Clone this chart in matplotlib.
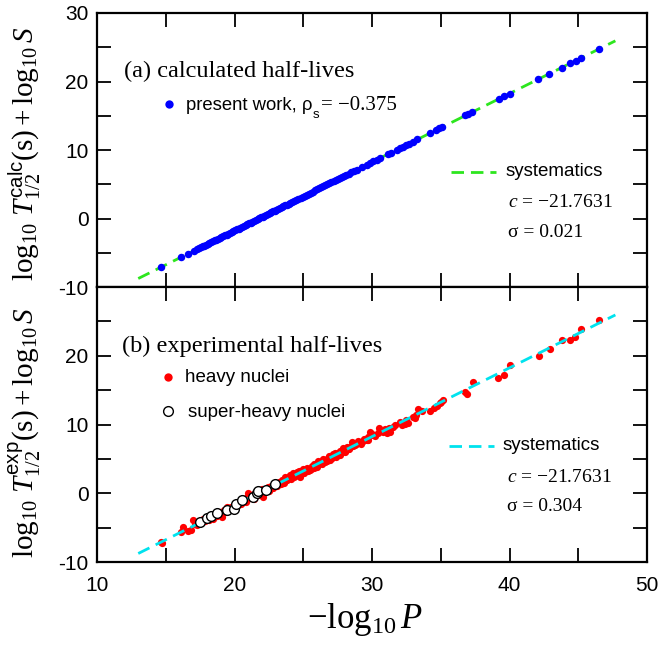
import matplotlib
matplotlib.use("Agg")
import matplotlib.pyplot as plt
import numpy as np

plt.rcParams['font.family'] = ['Liberation Sans', 'DejaVu Sans']
plt.rcParams['mathtext.fontset'] = 'custom'
plt.rcParams['mathtext.rm'] = 'Liberation Serif'
plt.rcParams['mathtext.it'] = 'Liberation Serif:italic'
plt.rcParams['mathtext.bf'] = 'Liberation Serif:bold'
plt.rcParams['mathtext.sf'] = 'Liberation Sans'
plt.rcParams['axes.unicode_minus'] = False
plt.rcParams['lines.scale_dashes'] = False

# ---------------- data ----------------
c_const = -21.7631
line_x = [13.0, 47.7]

calc_x = [14.65, 16.1, 16.6, 17.05, 17.3, 17.42, 17.55, 17.68, 17.8, 17.93, 18.05, 18.17, 18.3, 18.41,
          18.55, 18.66, 18.8, 18.92, 19.05, 19.17, 19.3, 19.42, 19.55, 19.67, 19.8, 19.91, 20.05, 20.17,
          20.3, 20.42, 20.55, 20.66, 20.8, 20.92, 21.05, 21.17, 21.3, 21.42, 21.55, 21.68, 21.8, 21.93,
          22.05, 22.17, 22.3, 22.42, 22.55, 22.68, 22.8, 22.92, 23.05, 23.18, 23.3, 23.43, 23.55, 23.68,
          23.8, 23.93, 24.05, 24.2, 24.35, 24.5, 24.65, 24.8, 24.95, 25.1, 25.25, 25.4, 25.55, 25.7, 25.85,
          26.0, 26.15, 26.3, 26.45, 26.6, 26.75, 26.9, 27.05, 27.2, 27.35, 27.5, 27.65, 27.8, 27.95, 28.1,
          28.3, 28.5, 28.7, 28.9, 29.25, 29.6, 29.85, 30.1, 30.35, 30.6, 31.15, 31.35, 31.8, 32.0, 32.25,
          32.5, 32.7, 33.0, 33.3, 34.2, 34.65, 34.9, 35.1, 36.8, 37.0, 37.3, 39.2, 39.6, 40.0, 42.1, 42.9,
          43.8, 44.4, 44.8, 45.2, 46.5]
calc_y = [-7.11, -5.66, -5.16, -4.71, -4.46, -4.34, -4.21, -4.08, -3.96, -3.83, -3.71, -3.59, -3.46, -3.35,
          -3.21, -3.10, -2.96, -2.84, -2.71, -2.59, -2.46, -2.34, -2.21, -2.09, -1.96, -1.85, -1.71, -1.59,
          -1.46, -1.34, -1.21, -1.10, -0.96, -0.84, -0.71, -0.59, -0.46, -0.34, -0.21, -0.08, 0.04, 0.17,
          0.29, 0.41, 0.54, 0.66, 0.79, 0.92, 1.04, 1.16, 1.29, 1.42, 1.54, 1.67, 1.79, 1.92,
          2.04, 2.17, 2.29, 2.44, 2.59, 2.74, 2.89, 3.04, 3.19, 3.34, 3.49, 3.64, 3.79, 3.94, 4.09,
          4.24, 4.39, 4.54, 4.69, 4.84, 4.99, 5.14, 5.29, 5.44, 5.59, 5.74, 5.89, 6.04, 6.19, 6.34,
          6.54, 6.74, 6.94, 7.14, 7.49, 7.84, 8.09, 8.34, 8.59, 8.84, 9.39, 9.59, 10.04, 10.24, 10.49,
          10.74, 10.94, 11.24, 11.54, 12.44, 12.89, 13.14, 13.34, 15.04, 15.24, 15.54, 17.44, 17.84, 18.24, 20.34, 21.14,
          22.04, 22.64, 23.04, 23.44, 24.74]

heavy_x = [14.63, 14.7, 16.1, 16.28, 16.65, 16.8, 17.0, 17.1, 17.25, 17.4, 17.55, 17.7, 17.85, 18.0, 18.15,
           18.3, 18.46, 18.6, 18.75, 18.9, 19.07, 19.2, 19.35, 19.43, 19.6, 19.75, 19.9, 20.05, 20.2, 20.35,
           20.5, 20.65, 20.8, 21.0, 21.1, 21.25, 21.4, 21.55, 21.7, 21.85, 22.1, 22.2, 22.34, 22.5, 22.65,
           22.8, 22.95, 23.1, 23.31, 23.45, 23.6, 23.67, 23.85, 24.0, 24.1, 24.28, 24.4, 24.55, 24.76, 24.9,
           25.05, 25.2, 25.35, 25.49, 25.6, 25.75, 25.97, 26.1, 26.22, 26.35, 26.46, 26.6, 26.82, 26.95,
           27.07, 27.19, 27.35, 27.5, 27.65, 27.8, 27.91, 28.05, 28.25, 28.4, 28.52, 28.76, 28.95, 29.13,
           29.35, 29.61, 29.73, 29.85, 30.1, 30.46, 30.53, 30.8, 31.07, 31.31, 31.5, 32.04, 32.2, 32.4,
           32.64, 33.0, 33.2, 33.32, 34.22, 34.71, 34.95, 35.14, 36.76, 36.89, 37.32, 39.19, 39.62, 40.04,
           42.17, 42.95, 43.82, 44.4, 44.76, 45.22, 46.51,
           20.9, 21.2, 21.45, 21.9, 22.0, 22.4, 22.6, 22.9, 23.2, 23.4, 23.75, 23.95, 24.2, 24.35, 24.6,
           24.7, 25.0, 25.3, 25.55, 25.8, 25.9, 26.05, 26.3, 26.55, 26.7, 26.9, 27.1, 27.3, 27.55, 27.7,
           28.0, 28.15, 28.35, 28.6, 28.85, 29.0, 29.2, 29.45, 29.7, 30.0, 30.25, 30.65, 30.95, 31.2,
           31.7, 32.5, 33.1, 33.6, 34.5, 35.0]
heavy_y = [-7.1, -7.25, -5.7, -4.9, -5.45, -5.3, -3.9, -4.5, -4.6, -4.1, -4.35, -3.8, -4.05, -3.5, -3.95,
           -3.3, -3.8, -3.0, -3.35, -2.7, -3.4, -2.5, -2.75, -1.95, -2.3, -2.0, -2.45, -1.5, -1.9, -1.2,
           -1.55, -0.9, -1.25, 0.0, -0.7, -0.35, -0.8, 0.1, -0.3, 0.3, -0.5, 0.55, 0.72, 0.35, 1.1,
           0.8, 1.5, 1.0, 1.45, 1.9, 1.55, 2.41, 2.0, 2.6, 2.1, 2.9, 2.45, 3.1, 2.41, 3.3,
           2.9, 3.6, 3.2, 3.38, 4.0, 3.7, 3.86, 4.4, 4.59, 4.2, 4.94, 4.6, 5.08, 4.8,
           5.32, 5.71, 5.3, 5.9, 5.6, 6.04, 6.54, 6.2, 6.5, 6.77, 7.5, 7.02, 7.3, 7.5,
           7.6, 7.75, 8.23, 8.95, 8.5, 8.81, 9.53, 8.9, 8.81, 8.95, 9.6, 10.32, 10.0, 10.07,
           10.26, 11.14, 11.38, 12.21, 11.96, 12.69, 13.08, 13.56, 14.77, 14.44, 16.14, 16.72, 17.2, 18.65,
           20.0, 20.98, 22.29, 22.29, 22.77, 23.89, 25.2,
           -0.6, -0.2, -0.15, 0.0, 0.6, 0.9, 0.6, 1.25, 1.7, 1.3, 1.9, 2.3, 2.7, 2.3, 2.6,
           3.2, 3.5, 3.7, 3.5, 4.3, 4.0, 4.7, 4.4, 4.9, 4.75, 5.4, 5.1, 5.8, 5.5, 6.2,
           6.0, 6.7, 6.4, 6.9, 7.2, 7.6, 7.2, 7.9, 7.7, 8.6, 8.3, 9.0, 9.3, 9.5,
           9.9, 10.6, 11.0, 11.9, 12.4, 13.3]

superheavy_x = [17.49, 17.98, 18.29, 18.75, 19.48, 19.96, 20.11, 20.52, 21.37, 21.61, 21.73, 22.29, 22.92]
superheavy_y = [-4.23, -3.64, -3.27, -2.92, -2.44, -2.25, -1.61, -0.98, -0.59, -0.01, 0.33, 0.47, 1.35]

x_ticks = [10, 20, 30, 40, 50]
y_ticks = [-10, 0, 10, 20, 30]

GREEN = '#2de61e'
CYAN = '#00e2ee'

# ---------------- figure ----------------
W, H = 659, 651
fig = plt.figure(figsize=(W / 100, H / 100), dpi=100)
ax1 = fig.add_axes([97 / W, 1 - 287 / H, 550 / W, 274 / H])
ax2 = fig.add_axes([97 / W, 1 - 562 / H, 550 / W, 275 / H])

lx = np.array(line_x)
ly = lx + c_const

ax1.plot(lx, ly, color=GREEN, lw=2.0, dashes=(9, 5), zorder=2)
ax1.plot(calc_x, calc_y, 'o', color='#0000ff', ms=5.4, mec='none', zorder=3)

ax2.plot(heavy_x, heavy_y, 'o', color='#ff0000', ms=5.2, mec='none', zorder=2)
ax2.plot(lx, ly, color=CYAN, lw=2.0, dashes=(9, 5), zorder=3)
ax2.plot(superheavy_x, superheavy_y, 'o', mfc='white', mec='black', ms=7.0, mew=1.0, zorder=4)

for ax in (ax1, ax2):
    ax.set_xlim(10, 50)
    ax.set_ylim(-10, 30)
    ax.set_xticks(x_ticks)
    ax.set_xticks([15, 25, 35, 45], minor=True)
    ax.set_yticks(y_ticks)
    ax.set_yticks([-5, 5, 15, 25], minor=True)
    ax.tick_params(which='both', direction='in', top=True, right=True, length=10, width=1.3,
                   labelsize=15, colors='black')
    ax.tick_params(axis='x', pad=10)
    ax.tick_params(axis='y', pad=6)
    for s in ax.spines.values():
        s.set_linewidth(1.6)

ax1.tick_params(axis='x', labelbottom=False)
ax2.set_yticks([-10, 0, 10, 20])
ax2.set_yticks([-5, 5, 15, 25, 30], minor=True)

# y labels
ax1.set_ylabel(r'$\log_{10}\,T_{1/2}^{\mathsf{calc}}(\mathrm{s}) + \log_{10}S$', fontsize=21)
ax2.set_ylabel(r'$\log_{10}\,T_{1/2}^{\mathsf{exp}}(\mathrm{s}) + \log_{10}S$', fontsize=21)
ax1.yaxis.set_label_coords(-0.098, 0.485)
ax2.yaxis.set_label_coords(-0.098, 0.47)

fig.text(365 / W, 1 - 620 / H, r'$-\log_{10}P$', fontsize=25, ha='center', va='center')

SERIF = ['Liberation Serif', 'DejaVu Serif']
SANS = ['Liberation Sans', 'DejaVu Sans']

# panel (a) annotations
ax1.text(0.049, 0.766, '(a) calculated half-lives', transform=ax1.transAxes, family=SERIF,
         fontsize=17.6, va='baseline')
ax1.plot([0.131], [0.668], 'o', color='#0000ff', ms=6, mec='none', transform=ax1.transAxes, clip_on=False)
t1 = ax1.text(0.162, 0.646, 'present work, ρ', transform=ax1.transAxes, family=SANS,
              fontsize=13.3, va='baseline')
fig.canvas.draw()
r = fig.canvas.get_renderer()
bb = t1.get_window_extent(r)
x_end = ax1.transAxes.inverted().transform((bb.x1, bb.y0))[0]
t2 = ax1.text(x_end + 0.001, 0.615, 's', transform=ax1.transAxes, family=SANS, fontsize=9.5, va='baseline')
bb2 = t2.get_window_extent(r)
x_end2 = ax1.transAxes.inverted().transform((bb2.x1, bb2.y0))[0]
ax1.text(x_end2 + 0.002, 0.646, '= −0.375', transform=ax1.transAxes, family=SERIF,
         fontsize=15, va='baseline')

ax1.plot([0.644, 0.725], [0.4197, 0.4197], color=GREEN, lw=2.0, dashes=(9, 5), transform=ax1.transAxes)
ax1.text(0.742, 0.405, 'systematics', transform=ax1.transAxes, family=SANS, fontsize=13.5, va='baseline')
ax1.text(0.747, 0.292, r'$c$ = −21.7631', transform=ax1.transAxes, family=SERIF, fontsize=14, va='baseline')
ax1.text(0.747, 0.182, 'σ = 0.021', transform=ax1.transAxes, family=SERIF, fontsize=14, va='baseline')

# panel (b) annotations
ax2.text(0.0455, 0.765, '(b) experimental half-lives', transform=ax2.transAxes, family=SERIF,
         fontsize=17.6, va='baseline')
ax2.plot([0.129], [0.673], 'o', color='#ff0000', ms=6, mec='none', transform=ax2.transAxes, clip_on=False)
ax2.text(0.16, 0.653, 'heavy nuclei', transform=ax2.transAxes, family=SANS, fontsize=13.5, va='baseline')
ax2.plot([0.129], [0.549], 'o', mfc='white', mec='black', ms=7, mew=1.0, transform=ax2.transAxes,
         clip_on=False)
ax2.text(0.165, 0.528, 'super-heavy nuclei', transform=ax2.transAxes, family=SANS, fontsize=13.5,
         va='baseline')
ax2.plot([0.64, 0.722], [0.4218, 0.4218], color=CYAN, lw=2.0, dashes=(9, 5), transform=ax2.transAxes)
ax2.text(0.738, 0.407, 'systematics', transform=ax2.transAxes, family=SANS, fontsize=13.5, va='baseline')
ax2.text(0.745, 0.292, r'$c$ = −21.7631', transform=ax2.transAxes, family=SERIF, fontsize=14, va='baseline')
ax2.text(0.745, 0.1866, 'σ = 0.304', transform=ax2.transAxes, family=SERIF, fontsize=14, va='baseline')

fig.savefig('out.png', dpi=100)
